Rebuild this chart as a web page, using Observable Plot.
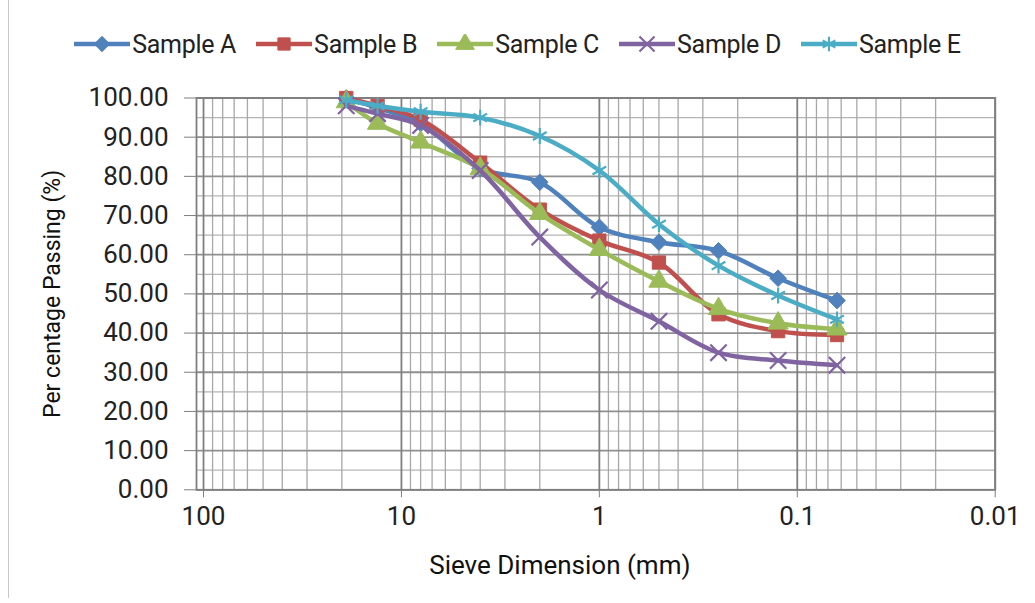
<!DOCTYPE html>
<html><head><meta charset="utf-8">
<script src="https://cdn.jsdelivr.net/npm/d3@7"></script>
<script src="https://cdn.jsdelivr.net/npm/@observablehq/plot@0.6"></script>
<style>
body{margin:0;background:#fff;font-family:Roboto,sans-serif;}
#wrap{position:relative;width:1035px;height:603px;overflow:hidden;background:#fff;}
#border{position:absolute;left:8px;top:0;width:1026px;height:598px;border-left:1px solid #c8c8c8;pointer-events:none;}
#legend{height:80px;display:flex;justify-content:center;align-items:center;gap:20px;padding-top:8px;box-sizing:border-box;}
.item{display:flex;align-items:center;font-size:25px;color:#222;letter-spacing:-0.3px;}
.item svg{margin-right:2px;}
</style></head><body>
<div id="wrap"><div id="border"></div><div id="legend"></div><div id="chart"></div></div>
<script>
const sieves = [19, 13.2, 8, 4, 2, 1, 0.5, 0.25, 0.125, 0.063];
const sampleA = [100, 97.5, 93.5, 82, 78.5, 67, 63.2, 61, 54, 48.3];
const sampleB = [100, 98, 94.5, 83.5, 71.5, 63.6, 58, 44.8, 40.5, 39.5];
const sampleC = [99, 93.5, 88.7, 82, 70.5, 61.3, 53.2, 46.2, 42.5, 41];
const sampleD = [98, 96, 93, 81.5, 64.5, 51, 43, 35, 33, 31.8];
const sampleE = [99.5, 98, 96.5, 95, 90.3, 81.5, 67.8, 57.2, 49.6, 43.5];
const seriesNames = ["Sample A", "Sample B", "Sample C", "Sample D", "Sample E"];
const seriesValues = [sampleA, sampleB, sampleC, sampleD, sampleE];
const seriesColors = ["#4F81BD", "#C0504D", "#9BBB59", "#8064A2", "#4BACC6"];
const seriesSymbols = ["diamond2", "square", "triangle", "times", "asterisk"];
const seriesFilled = [true, true, true, false, false];
const xTicks = [100, 10, 1, 0.1, 0.01];
const xTickLabels = ["100", "10", "1", "0.1", "0.01"];
const yTicks = [0, 10, 20, 30, 40, 50, 60, 70, 80, 90, 100];
const yMinor = [5, 15, 25, 35, 45, 55, 65, 75, 85, 95];
const xTitle = "Sieve Dimension (mm)";
const yTitle = "Per centage Passing (%)";

const xMinor = [];
for (const e of [-2, -1, 0, 1]) for (let k = 2; k <= 9; k++) xMinor.push(k * Math.pow(10, e));
const xLabelMap = new Map(xTicks.map((t, i) => [t, xTickLabels[i]]));

const symMap = {diamond2: d3.symbolDiamond2, square: d3.symbolSquare, triangle: d3.symbolTriangle, times: d3.symbolTimes, asterisk: d3.symbolAsterisk};

// legend
const legend = d3.select("#legend");
seriesNames.forEach((name, i) => {
  const it = legend.append("div").attr("class", "item");
  const s = it.append("svg").attr("width", 56).attr("height", 20);
  s.append("line").attr("x1", 0).attr("x2", 56).attr("y1", 10).attr("y2", 10)
    .attr("stroke", seriesColors[i]).attr("stroke-width", 4.5);
  const p = s.append("path").attr("transform", "translate(28,10)")
    .attr("d", d3.symbol(symMap[seriesSymbols[i]], 150)());
  if (seriesFilled[i]) p.attr("fill", seriesColors[i]).attr("stroke", seriesColors[i]);
  else p.attr("fill", "none").attr("stroke", seriesColors[i]).attr("stroke-width", 2.2);
  it.append("span").text(name);
});

const marks = [
  Plot.ruleY(yMinor, {stroke: "#b4b4b4", strokeWidth: 1.3}),
  Plot.ruleX(xMinor, {stroke: "#a8a8a8", strokeWidth: 1.3}),
  Plot.ruleY(yTicks, {stroke: "#8f8f8f", strokeWidth: 1.8}),
  Plot.ruleX(xTicks, {stroke: "#7f7f7f", strokeWidth: 1.8}),
  Plot.frame({stroke: "#7f7f7f", strokeWidth: 1.8}),
  Plot.axisY({ticks: yTicks, tickFormat: d3.format(".2f"), tickSize: 12, tickPadding: 16, fontSize: 26, stroke: "#7f7f7f", fill: "#222", label: null}),
  Plot.axisX({ticks: xTicks, tickFormat: d => xLabelMap.get(d), tickSize: 8, tickPadding: 9, fontSize: 26, stroke: "#7f7f7f", fill: "#222", label: null}),
  Plot.text([yTitle], {frameAnchor: "left", textAnchor: "middle", rotate: -90, dx: -144, fontSize: 23, fill: "#111"}),
  Plot.text([xTitle], {frameAnchor: "bottom", textAnchor: "middle", dx: -36, dy: 84, fontSize: 26, fill: "#111"})
];

seriesValues.forEach((vals, i) => {
  const rows = sieves.map((s, j) => ({sieve: s, value: vals[j]}));
  marks.push(Plot.line(rows, {x: "sieve", y: "value", stroke: seriesColors[i], strokeWidth: 4.5, curve: "catmull-rom"}));
  marks.push(Plot.dot(rows, {x: "sieve", y: "value", symbol: () => seriesSymbols[i], r: 7.5,
    fill: seriesFilled[i] ? seriesColors[i] : "none", stroke: seriesColors[i], strokeWidth: seriesFilled[i] ? 1 : 2.2}));
});

const chart = Plot.plot({
  width: 1035, height: 523,
  marginTop: 17.5, marginBottom: 113.7, marginLeft: 196, marginRight: 40.3,
  x: {type: "log", domain: [108.5, 0.01]},
  y: {domain: [0, 100]},
  symbol: {type: "identity"},
  style: {fontFamily: "Roboto, sans-serif", color: "#222", background: "#fff", overflow: "visible"},
  marks
});
document.getElementById("chart").appendChild(chart);
</script>
</body></html>
